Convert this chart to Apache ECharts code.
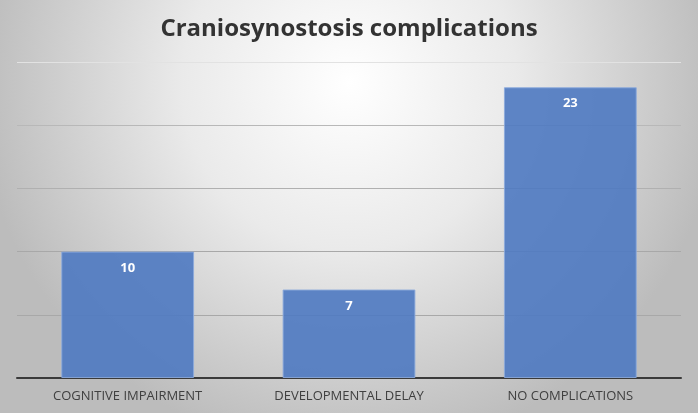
<!DOCTYPE html>
<html>
<head>
<meta charset="utf-8">
<script src="https://cdn.jsdelivr.net/npm/echarts@6/dist/echarts.min.js"></script>
<style>html,body{margin:0;padding:0;}#c{width:698px;height:413px;}</style>
</head>
<body>
<div id="c"></div>
<script>
const categories = ['COGNITIVE IMPAIRMENT', 'DEVELOPMENTAL DELAY', 'NO COMPLICATIONS'];
const counts = [10, 7, 23];
const titleText = 'Craniosynostosis complications';

const chart = echarts.init(document.getElementById('c'));
chart.setOption({
  animation: false,
  backgroundColor: new echarts.graphic.RadialGradient(0.5, 0.2, 0.9, [
    { offset: 0, color: '#ffffff' },
    { offset: 0.45, color: '#eaeaea' },
    { offset: 1, color: '#bcbcbc' }
  ]),
  title: {
    text: titleText,
    left: 'center',
    top: 12,
    textStyle: { fontFamily: 'Open Sans', fontWeight: 'bold', fontSize: 24, color: '#333333' }
  },
  grid: { left: 17, right: 17, top: 62, bottom: 35, containLabel: false },
  xAxis: {
    type: 'category',
    data: categories,
    axisLine: { lineStyle: { color: '#3a3a3a', width: 2 } },
    axisTick: { show: false },
    axisLabel: { fontFamily: 'Open Sans', fontSize: 13, color: '#404040', margin: 12 }
  },
  yAxis: {
    type: 'value',
    min: 0, max: 25, interval: 5,
    axisLabel: { show: false },
    axisLine: { show: false },
    axisTick: { show: false },
    splitLine: { lineStyle: { color: ['#a0a0a0', '#a8a8a8', '#a8a8a8', '#b0b0b0', '#b8b8b8', '#e2e2e2'], width: 1 } }
  },
  series: [{
    type: 'bar',
    data: counts,
    barCategoryGap: '40%',
    itemStyle: { color: 'rgba(78,121,193,0.9)', borderColor: 'rgba(140,170,220,0.9)', borderWidth: 1 },
    label: {
      show: true,
      position: 'insideTop',
      distance: 10,
      color: '#ffffff',
      fontFamily: 'Open Sans',
      fontWeight: 'bold',
      fontSize: 13
    }
  }]
});
</script>
</body>
</html>
